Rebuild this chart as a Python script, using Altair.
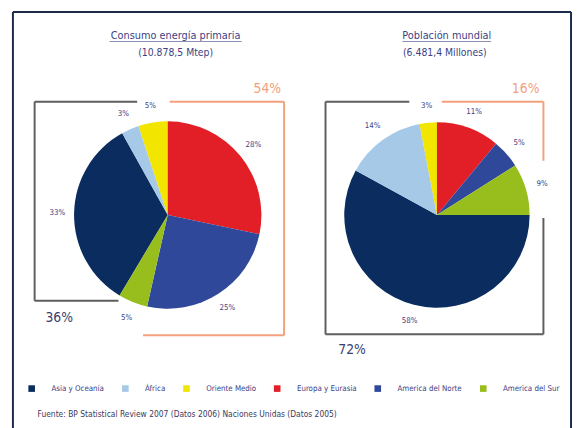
import altair as alt
import pandas as pd

# ---------------- data ----------------
regions = ["Asia y Oceanía", "África", "Oriente Medio", "Europa y Eurasia",
           "America del Norte", "America del Sur"]
region_colors = ["#0b2c5f", "#a6c9e8", "#f2e500", "#e21f26", "#2f4899", "#98be1d"]
slice_order = [4, 5, 6, 1, 2, 3]          # clockwise from 12 o'clock
energy_pct = [33, 3, 5, 28, 25, 5]
population_pct = [58, 14, 3, 11, 5, 9]

titles = ["Consumo energía primaria", "Población mundial"]
subtitles = ["(10.878,5 Mtep)", "(6.481,4 Millones)"]
group_labels_energy = ["54%", "36%"]
group_labels_population = ["16%", "72%"]
source_text = "Fuente:  BP Statistical Review 2007 (Datos 2006) Naciones Unidas (Datos 2005)"

FONT = "Liberation Sans Narrow, DejaVu Sans Condensed, sans-serif"
TXT = "#3d3f85"
GREY = "#5e5e5e"
ORANGE = "#f4a07c"
FRAME = "#1c2b4a"

W, H = 573, 420
OX, OY = 8, 8  # page margin offset


def px(v):
    return v - OX


def py(v):
    return v - OY


def pie_df(values):
    return pd.DataFrame({
        "region": regions,
        "value": values,
        "idx": slice_order,
        "label": [f"{v}%" for v in values],
    })


color_scale = alt.Scale(domain=regions, range=region_colors)
legend = alt.Legend(
    orient="none", legendX=px(28), legendY=py(387), direction="horizontal",
    title=None, symbolType="square", symbolSize=45, symbolStrokeWidth=0,
    labelFont=FONT, labelFontSize=8, labelColor=TXT, labelOffset=16,
    columnPadding=17, padding=0,
)


def pie(values, cx, cy, r, show_legend):
    df = pie_df(values)
    base = alt.Chart(df).encode(
        theta=alt.Theta("value:Q", stack="normalize"),
        order=alt.Order("idx:Q"),
        x=alt.value(px(cx)), y=alt.value(py(cy)),
    )
    arcs = base.mark_arc(radius=r, stroke=None).encode(
        color=alt.Color("region:N", scale=color_scale,
                        legend=legend if show_legend else None),
    )
    labels = base.mark_text(radius=r + 17, font=FONT, fontSize=8, color=TXT).encode(
        text="label:N"
    )
    return arcs + labels


dummy = pd.DataFrame({"d": [0]})


def seg(x1, y1, x2, y2, color, w=2):
    return alt.Chart(dummy).mark_rule(color=color, strokeWidth=w).encode(
        x=alt.value(px(x1)), x2=alt.value(px(x2)),
        y=alt.value(py(y1)), y2=alt.value(py(y2)),
    )


def txt(s, x, y, size, color, align="center", weight="normal"):
    return alt.Chart(dummy).mark_text(
        font=FONT, fontSize=size, color=color, align=align,
        baseline="middle", fontWeight=weight,
    ).encode(x=alt.value(px(x)), y=alt.value(py(y)), text=alt.value(s))


layers = []
# frame
layers += [
    seg(13, 9, 13, 440, FRAME, 2),
    seg(13, 9, 579, 9, FRAME, 2),
    seg(579, 9, 579, 440, FRAME, 2),
]
# pies
layers.append(pie(energy_pct, 170, 215, 95, True))
layers.append(pie(population_pct, 443, 215, 94, False))

# brackets, pie 1
layers += [
    seg(35, 100, 139, 100, GREY), seg(35, 100, 35, 302, GREY), seg(35, 302, 120, 302, GREY),
    seg(172, 100, 288, 100, ORANGE), seg(288, 100, 288, 337, ORANGE), seg(145, 337, 288, 337, ORANGE),
]
# brackets, pie 2
layers += [
    seg(330, 100, 415, 100, GREY), seg(330, 100, 330, 336, GREY),
    seg(330, 336, 551, 336, GREY), seg(551, 218, 551, 336, GREY),
    seg(448, 100, 551, 100, ORANGE), seg(551, 100, 551, 160, ORANGE),
]
# titles
layers += [
    txt(titles[0], 178, 33, 11, TXT), seg(111, 39, 245, 39, "#8a8cb8", 1),
    txt(subtitles[0], 178, 51, 10.5, TXT),
    txt(titles[1], 453, 33, 11, TXT), seg(408, 39, 498, 39, "#8a8cb8", 1),
    txt(subtitles[1], 451, 51, 10.5, TXT),
]
# group labels
layers += [
    txt(group_labels_energy[0], 271, 87, 14, ORANGE),
    txt(group_labels_energy[1], 60, 319, 14, "#3a3f6e"),
    txt(group_labels_population[0], 533, 87, 14, ORANGE),
    txt(group_labels_population[1], 357, 352, 14, "#3a3f6e"),
]
# source
layers.append(txt(source_text, 38, 417, 8.5, "#3a3a5e", align="left"))

chart = alt.layer(*layers).properties(
    width=W, height=H, padding=0, autosize="none", background="white"
).configure_view(stroke=None)

chart.save("out.html", embed_options={"renderer": "svg", "actions": False})
